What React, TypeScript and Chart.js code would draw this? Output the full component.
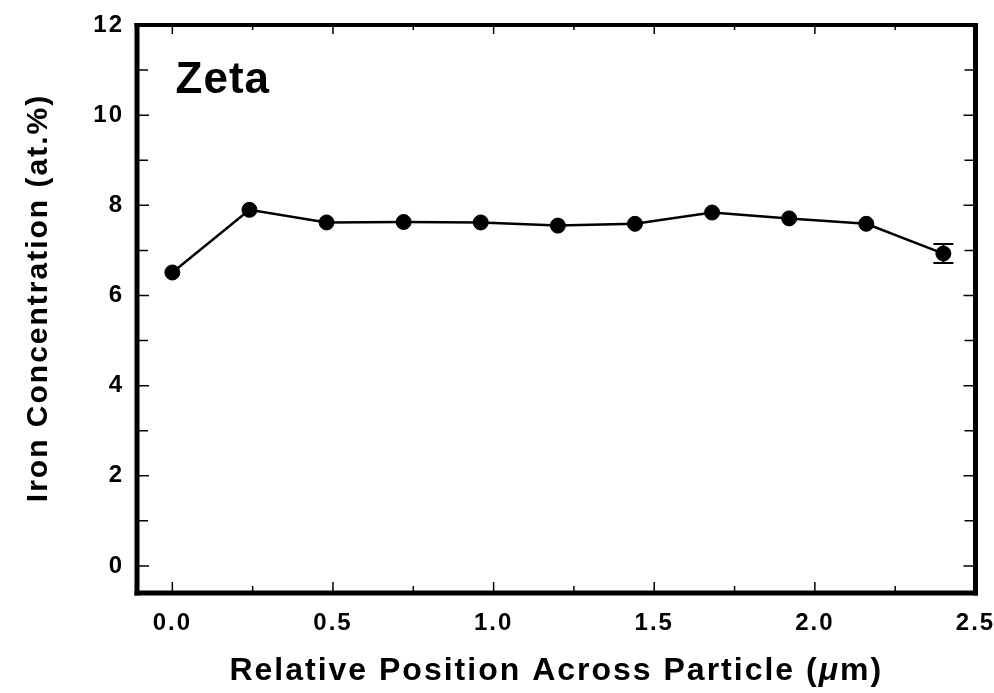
import React, { useEffect, useRef } from 'react';
import { Chart, registerables } from 'chart.js';

Chart.register(...registerables);

// ---- data ----
const positions = [0.0, 0.24, 0.48, 0.72, 0.96, 1.2, 1.44, 1.68, 1.92, 2.16, 2.4];
const ironConc = [6.51, 7.9, 7.62, 7.63, 7.62, 7.55, 7.59, 7.84, 7.71, 7.59, 6.93];
const ironErr = [0, 0, 0, 0, 0, 0, 0, 0, 0, 0, 0.21];
const xMajorTicks = [0, 0.5, 1.0, 1.5, 2.0, 2.5];
const xMinorTicks = [0.25, 0.75, 1.25, 1.75, 2.25];
const yMajorTicks = [0, 2, 4, 6, 8, 10, 12];
const yMinorTicks = [1, 3, 5, 7, 9, 11];
const panelLabel = 'Zeta';
const xTitleParts = ['Relative Position Across Particle (', 'μ', 'm)'];
const yTitle = 'Iron Concentration (at.%)';

const X_MIN = -0.11;
const X_MAX = 2.5;
const Y_MIN = -0.6;
const Y_MAX = 12;

const FONT = '"Liberation Sans", Arial, Helvetica, sans-serif';

const spacingPlugin = {
  id: 'spacing',
  beforeDraw(chart: any) {
    (chart.ctx as any).letterSpacing = '2px';
  },
};

const framePlugin = {
  id: 'frame',
  afterDatasetsDraw(chart: any) {
    const ctx = chart.ctx;
    const { left, right, top, bottom } = chart.chartArea;
    const xs = chart.scales.x;
    const ys = chart.scales.y;
    ctx.save();
    (ctx as any).letterSpacing = '0px';
    ctx.strokeStyle = '#000';
    ctx.lineCap = 'butt';

    // error bars
    ctx.lineWidth = 2;
    positions.forEach((p, i) => {
      const e = ironErr[i];
      if (!e) return;
      const px = xs.getPixelForValue(p);
      const y1 = ys.getPixelForValue(ironConc[i] + e);
      const y2 = ys.getPixelForValue(ironConc[i] - e);
      ctx.beginPath();
      ctx.moveTo(px, y1);
      ctx.lineTo(px, y2);
      ctx.moveTo(px - 10, y1);
      ctx.lineTo(px + 10, y1);
      ctx.moveTo(px - 10, y2);
      ctx.lineTo(px + 10, y2);
      ctx.stroke();
    });

    // ticks (inward, all four sides)
    ctx.lineWidth = 1.5;
    const major = 11;
    const minor = 7;
    const drawX = (v: number, len: number) => {
      const px = xs.getPixelForValue(v);
      ctx.beginPath();
      ctx.moveTo(px, bottom);
      ctx.lineTo(px, bottom - len);
      ctx.moveTo(px, top);
      ctx.lineTo(px, top + len - 2);
      ctx.stroke();
    };
    const drawY = (v: number, len: number) => {
      const py = ys.getPixelForValue(v);
      ctx.beginPath();
      ctx.moveTo(left, py);
      ctx.lineTo(left + len + 1, py);
      ctx.moveTo(right, py);
      ctx.lineTo(right - len - 1, py);
      ctx.stroke();
    };
    xMajorTicks.forEach((v) => drawX(v, major));
    xMinorTicks.forEach((v) => drawX(v, minor));
    yMajorTicks.forEach((v) => drawY(v, major));
    yMinorTicks.forEach((v) => drawY(v, major - 1));

    // frame
    ctx.fillStyle = '#000';
    ctx.fillRect(left - 2.5, top - 2, 5, bottom - top + 4.5); // left
    ctx.fillRect(right - 2.5, top - 2, 5, bottom - top + 4.5); // right
    ctx.fillRect(left - 2.5, bottom - 2.5, right - left + 5, 5); // bottom
    ctx.fillRect(left - 2.5, top - 2, right - left + 5, 4); // top

    // panel label
    ctx.font = `bold 44px ${FONT}`;
    (ctx as any).letterSpacing = '1px';
    ctx.textAlign = 'left';
    ctx.textBaseline = 'alphabetic';
    ctx.fillText(panelLabel, xs.getPixelForValue(0.01), ys.getPixelForValue(10.5));

    // x axis title (with italic mu)
    (ctx as any).letterSpacing = '2px';
    const nFont = `bold 32px ${FONT}`;
    const iFont = `italic bold 32px ${FONT}`;
    const fonts = [nFont, iFont, nFont];
    const widths = xTitleParts.map((t, i) => {
      ctx.font = fonts[i];
      return ctx.measureText(t).width;
    });
    const total = widths.reduce((a, b) => a + b, 0);
    let cx = (left + right) / 2 - total / 2;
    const baseY = bottom + 87;
    xTitleParts.forEach((t, i) => {
      ctx.font = fonts[i];
      ctx.fillText(t, cx, baseY);
      cx += widths[i];
    });

    // y axis title
    ctx.save();
    ctx.font = `bold 30px ${FONT}`;
    (ctx as any).letterSpacing = '2px';
    ctx.translate(left - 90, (top + bottom) / 2 - 11);
    ctx.rotate(-Math.PI / 2);
    ctx.textAlign = 'center';
    ctx.textBaseline = 'alphabetic';
    ctx.fillText(yTitle, 0, 0);
    ctx.restore();

    ctx.restore();
  },
};

export default function App() {
  const ref = useRef<HTMLCanvasElement | null>(null);
  useEffect(() => {
    if (!ref.current) return;
    const chart = new Chart(ref.current, {
      type: 'line',
      data: {
        datasets: [
          {
            label: 'Iron',
            data: positions.map((p, i) => ({ x: p, y: ironConc[i] })),
            borderColor: '#000',
            backgroundColor: '#000',
            borderWidth: 2.5,
            pointRadius: 7.5,
            pointBackgroundColor: '#000',
            pointBorderColor: '#000',
            pointBorderWidth: 1,
            tension: 0,
            clip: false as any,
          },
        ],
      },
      options: {
        animation: false,
        responsive: false,
        events: [],
        layout: { padding: { top: 25, right: 18.5, left: 0, bottom: 0 } },
        plugins: { legend: { display: false }, tooltip: { enabled: false } },
        scales: {
          x: {
            type: 'linear',
            min: X_MIN,
            max: X_MAX,
            afterBuildTicks: (s: any) => {
              s.ticks = xMajorTicks.map((v) => ({ value: v }));
            },
            afterFit: (s: any) => {
              s.height = 100;
              s.paddingLeft = 0;
              s.paddingRight = 0;
            },
            grid: { display: false, drawTicks: false },
            border: { display: false },
            ticks: {
              color: '#000',
              padding: 16,
              maxRotation: 0,
              autoSkip: false,
              font: { family: FONT, size: 24, weight: 'bold' },
              callback: (v: any) => Number(v).toFixed(1),
            },
            title: { display: false },
          },
          y: {
            type: 'linear',
            min: Y_MIN,
            max: Y_MAX,
            afterBuildTicks: (s: any) => {
              s.ticks = yMajorTicks.map((v) => ({ value: v }));
            },
            afterFit: (s: any) => {
              s.width = 137;
              s.paddingTop = 0;
              s.paddingBottom = 0;
            },
            grid: { display: false, drawTicks: false },
            border: { display: false },
            ticks: {
              color: '#000',
              padding: 13,
              autoSkip: false,
              font: { family: FONT, size: 24, weight: 'bold' },
              callback: (v: any) => String(Math.round(Number(v))),
            },
            title: { display: false },
          },
        },
      },
      plugins: [spacingPlugin, framePlugin],
    });
    return () => chart.destroy();
  }, []);
  return (
    <div style={{ position: 'absolute', left: 0, top: 0, width: 994, height: 693, background: '#fff' }}>
      <canvas ref={ref} width={994} height={693} />
    </div>
  );
}
